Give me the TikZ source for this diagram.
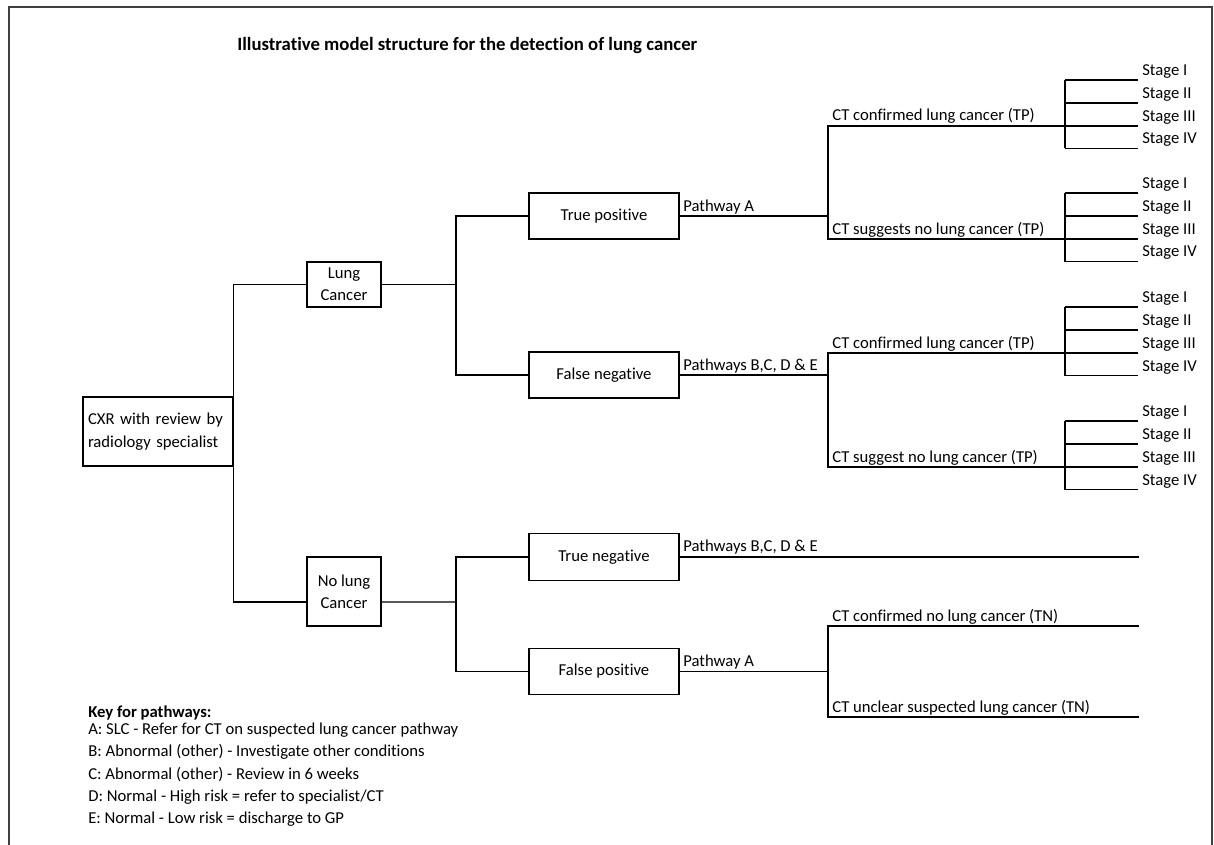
\documentclass[tikz,border=0pt]{standalone}
\usepackage{fontspec}
\setmainfont{Carlito}[Ligatures=NoCommon]
\newcommand\fs{\fontsize{10}{13.4}\selectfont}
\newcommand\fst{\fontsize{10}{13.4}\selectfont\bfseries}
\newcommand\fstt{\fontsize{11.25}{13.4}\selectfont\bfseries}
\tikzset{
  box/.style={draw, line width=1.1pt, inner sep=0pt, align=center, font=\fs},
  conn/.style={line width=0.65pt},
  lbl/.style={anchor=base west, inner sep=0pt, font=\fs},
  framestyle/.style={line width=0.8pt, draw=black!75},
}
\begin{document}
\begin{tikzpicture}[x=0.6pt, y=-0.6pt]
\useasboundingbox (0,0) rectangle (1214,845);
\draw[framestyle] (9,845) -- (9,7) -- (1212,7) -- (1212,845);

\node[lbl, font=\fstt] (title) at (237,50.5) {Illustrative model structure for the detection of lung cancer};

% boxes
\node[box, minimum width=90pt, minimum height=41.4pt, text width=84pt, align=left] (cxr) at (158,431.5) {CXR with review by\\radiology specialist};
\node[box, minimum width=44.4pt, minimum height=27pt] (lung) at (344,284.5) {Lung\\Cancer};
\node[box, minimum width=44.4pt, minimum height=41.4pt] (nolung) at (344,591.5) {No lung\\Cancer};
\node[box, minimum width=90pt, minimum height=27.6pt] (tp) at (604,216) {True positive};
\node[box, minimum width=90pt, minimum height=27.6pt] (fn) at (604,375) {False negative};
\node[box, minimum width=90pt, minimum height=28.2pt] (tn) at (604,557) {True negative};
\node[box, minimum width=90pt, minimum height=27.6pt] (fp) at (604,671.5) {False positive};

% junctions
\coordinate (j1) at (456,284.5);
\coordinate (j2) at (456,602);
\coordinate (j3) at (828,216);
\coordinate (j4) at (828,375);
\coordinate (j5) at (828,671.5);
\coordinate (cta) at (1065,126);
\coordinate (ctb) at (1065,239);
\coordinate (ctc) at (1065,353);
\coordinate (ctd) at (1065,467);
\coordinate (tnend) at (1139,557);
\coordinate (fpa) at (1139,626);
\coordinate (fpb) at (1139,717);

% connectors
\draw[conn] (lung.west) -| (cxr.north east);
\draw[conn] ([yshift=-6.3pt]nolung.west) -| (cxr.south east);
\draw[conn] (lung.east) -- (j1);
\draw[conn] (tp.west) -| (j1) |- (fn.west);
\draw[conn] ([yshift=-6.3pt]nolung.east) -- (j2);
\draw[conn] (tn.west) -| (j2) |- (fp.west);
\draw[conn] (tp.east) -- (j3);
\draw[conn] (cta) -| (j3) |- (ctb);
\draw[conn] (fn.east) -- (j4);
\draw[conn] (ctc) -| (j4) |- (ctd);
\draw[conn] (tn.east) -- (tnend);
\draw[conn] (fp.east) -- (j5);
\draw[conn] (fpa) -| (j5) |- (fpb);

% stage groups
\foreach \g/\yc in {a/126, b/239, c/353, d/467} {
  \draw[conn] (1065,{\yc-46}) -- (1065,{\yc+22.5});
  \foreach \i/\dy/\t in {1/-46/I, 2/-23/II, 3/0/III, 4/22.5/IV} {
    \coordinate (s\g\i) at (1065,{\yc+(\dy)});
    \coordinate (e\g\i) at (1138,{\yc+(\dy)});
    \draw[conn] (s\g\i) -- (e\g\i);
    \node[lbl] (l\g\i) at (1142,{\yc+(\dy)-4.5}) {Stage \t};
  }
}

% pathway labels
\node[lbl] (pa1) at (683,211) {Pathway A};
\node[lbl] (pb1) at (683,370) {Pathways B,C, D \& E};
\node[lbl] (pb2) at (683,551.5) {Pathways B,C, D \& E};
\node[lbl] (pa2) at (683,666.5) {Pathway A};

% CT labels
\node[lbl] (ct1) at (832,121) {CT confirmed lung cancer (TP)};
\node[lbl] (ct2) at (832,234) {CT suggests no lung cancer (TP)};
\node[lbl] (ct3) at (832,348) {CT confirmed lung cancer (TP)};
\node[lbl] (ct4) at (832,462) {CT suggest no lung cancer (TP)};
\node[lbl] (ct5) at (832,621) {CT confirmed no lung cancer (TN)};
\node[lbl] (ct6) at (832,712) {CT unclear suspected lung cancer (TN)};

% key
\node[lbl, font=\fst] (key0) at (88,717) {Key for pathways:};
\node[lbl] (key1) at (88,734.3) {A: SLC - Refer for CT on suspected lung cancer pathway};
\node[lbl] (key2) at (88,756.7) {B: Abnormal (other) - Investigate other conditions};
\node[lbl] (key3) at (88,779.1) {C: Abnormal (other) - Review in 6 weeks};
\node[lbl] (key4) at (88,801.5) {D: Normal - High risk = refer to specialist/CT};
\node[lbl] (key5) at (88,823.9) {E: Normal - Low risk = discharge to GP};
\end{tikzpicture}
\end{document}
